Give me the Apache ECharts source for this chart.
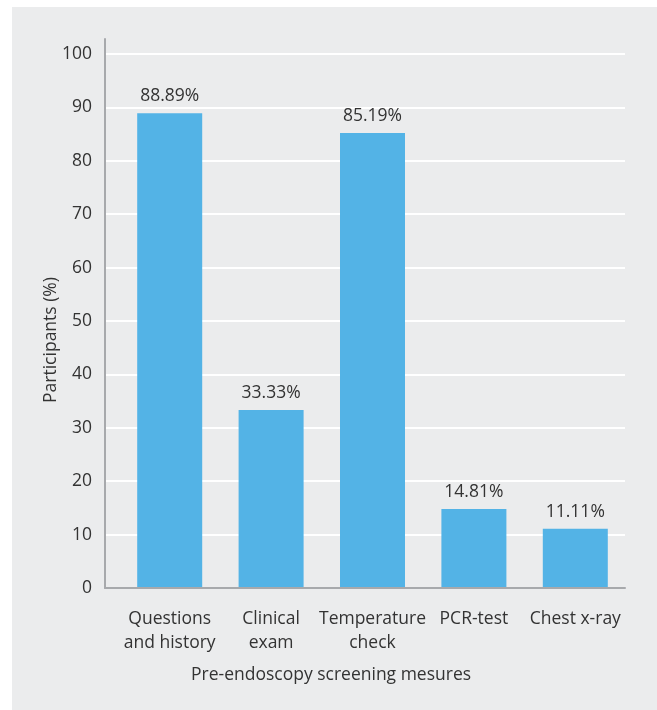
<!DOCTYPE html>
<html>
<head>
<meta charset="utf-8">
<script src="https://cdn.jsdelivr.net/npm/echarts@6/dist/echarts.min.js"></script>
<style>
html,body{margin:0;padding:0;background:#ffffff;}
#chart{width:657px;height:710px;}
</style>
</head>
<body>
<div id="chart"></div>
<script>
const categories = ['Questions\nand history', 'Clinical\nexam', 'Temperature\ncheck', 'PCR-test', 'Chest x-ray'];
const values = [88.89, 33.33, 85.19, 14.81, 11.11];
const yTicks = [0, 10, 20, 30, 40, 50, 60, 70, 80, 90, 100];
const xTitle = 'Pre-endoscopy screening mesures';
const yTitle = 'Participants (%)';

const FONT = '"Open Sans", sans-serif';
const FS = 17.5;
const TXT = '#333333';
const AXIS = '#a7a9ac';

const chart = echarts.init(document.getElementById('chart'));
chart.setOption({
  animation: false,
  backgroundColor: '#ffffff',
  textStyle: { fontFamily: FONT },
  graphic: [
    { type: 'rect', left: 12, top: 7, z: -10, shape: { width: 700, height: 720 }, style: { fill: '#ebeced' } },
    { type: 'text', left: 191, top: 666, style: { text: xTitle, fill: TXT, font: FS + 'px "Open Sans", sans-serif' } },
    { type: 'text', left: 42, top: 277, rotation: Math.PI / 2, style: { text: yTitle, fill: TXT, font: FS + 'px "Open Sans", sans-serif' } }
  ],
  grid: [
    { left: 105, right: 32, top: 54, bottom: 122 },
    { left: 105, right: 32, top: 39, bottom: 122 },
    { left: 119, right: 31, top: 54, bottom: 122 }
  ],
  xAxis: [
    { gridIndex: 0, type: 'value', min: 0, max: 1, axisLabel: { show: false }, axisTick: { show: false }, splitLine: { show: false },
      axisLine: { show: true, lineStyle: { color: AXIS, width: 2 } }, z: 5 },
    { gridIndex: 1, type: 'value', min: 0, max: 1, show: false },
    { gridIndex: 2, type: 'category', data: categories, axisLine: { show: false }, axisTick: { show: false },
      axisLabel: { color: TXT, fontSize: FS, lineHeight: 24, margin: 19, fontFamily: FONT, interval: 0 } }
  ],
  yAxis: [
    { gridIndex: 0, type: 'value', min: yTicks[0], max: yTicks[yTicks.length - 1], interval: 10,
      axisLine: { show: false }, axisTick: { show: false },
      axisLabel: { color: TXT, fontSize: FS, margin: 13, fontFamily: FONT },
      splitLine: { show: true, lineStyle: { color: '#ffffff', width: 2 } } },
    { gridIndex: 1, type: 'value', min: 0, max: 1, axisLabel: { show: false }, axisTick: { show: false }, splitLine: { show: false },
      axisLine: { show: true, lineStyle: { color: AXIS, width: 2 } }, z: 5 },
    { gridIndex: 2, type: 'value', min: 0, max: 100, show: false }
  ],
  series: [{
    type: 'bar',
    xAxisIndex: 2,
    yAxisIndex: 2,
    data: values,
    barWidth: 65,
    itemStyle: { color: '#53b3e6' },
    label: {
      show: true, position: 'top', distance: 8, color: TXT, fontSize: FS, fontFamily: FONT,
      formatter: p => p.value.toFixed(2) + '%'
    }
  }]
});
</script>
</body>
</html>
